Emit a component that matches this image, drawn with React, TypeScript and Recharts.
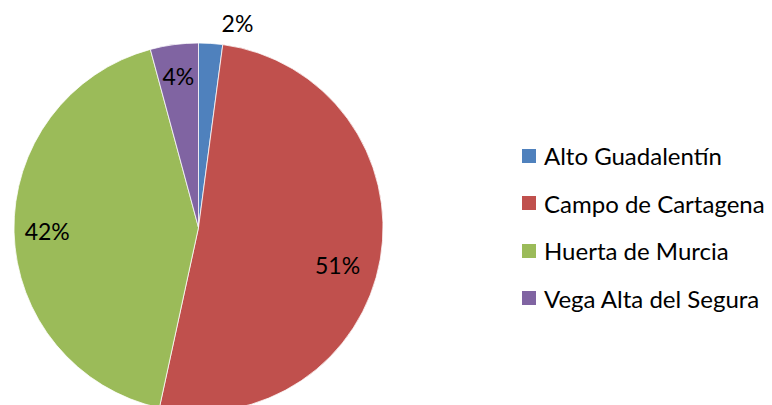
import React from "react";
import { PieChart, Pie, Cell, Legend } from "recharts";

const categories = ["Alto Guadalentín", "Campo de Cartagena", "Huerta de Murcia", "Vega Alta del Segura"];
const values = [2.1, 51.3, 42.4, 4.2];
const percentLabels = ["2%", "51%", "42%", "4%"];
const colors = ["#4F81BD", "#C0504D", "#9BBB59", "#8064A2"];
const labelRadiusFactor = [1.13, 0.78, 0.82, 0.83];
const labelAngleShift = [-7, -5, 0, 0];

const data = categories.map((name, i) => ({ name, value: values[i] }));

const FONT = "Lato, 'Open Sans', sans-serif";

const RAD = Math.PI / 180;

const renderLabel = (props: any) => {
  const { cx, cy, midAngle, outerRadius, index } = props;
  const r = outerRadius * labelRadiusFactor[index];
  const a = (midAngle + labelAngleShift[index]) * RAD;
  const x = cx + r * Math.cos(-a);
  const y = cy + r * Math.sin(-a);
  return (
    <text x={x} y={y} textAnchor="middle" dominantBaseline="central" fill="#000" fontSize={23} fontFamily={FONT}>
      {percentLabels[index]}
    </text>
  );
};

const renderLegend = () => (
  <div style={{ fontFamily: FONT, fontSize: 24, color: "#000" }}>
    {categories.map((c, i) => (
      <div key={c} style={{ display: "flex", alignItems: "center", height: 47.5 }}>
        <span style={{ display: "inline-block", width: 14, height: 14, background: colors[i], marginRight: 8 }} />
        <span>{c}</span>
      </div>
    ))}
  </div>
);

export default function App() {
  return (
    <div style={{ position: "absolute", left: 0, top: 0, width: 772, height: 405, overflow: "hidden", background: "#fff" }}>
      <PieChart width={772} height={405} margin={{ top: 0, right: 0, bottom: 0, left: 0 }}>
        <Pie
          data={data}
          dataKey="value"
          nameKey="name"
          cx={198.5}
          cy={227.5}
          outerRadius={184.5}
          startAngle={90}
          endAngle={-270}
          stroke="#ffffff"
          strokeWidth={0.75}
          label={renderLabel}
          labelLine={false}
          isAnimationActive={false}
        >
          {data.map((d, i) => (
            <Cell key={d.name} fill={colors[i]} />
          ))}
        </Pie>
        <Legend
          content={renderLegend}
          layout="vertical"
          wrapperStyle={{ position: "absolute", left: 522, top: 132, width: 250 }}
        />
      </PieChart>
    </div>
  );
}
